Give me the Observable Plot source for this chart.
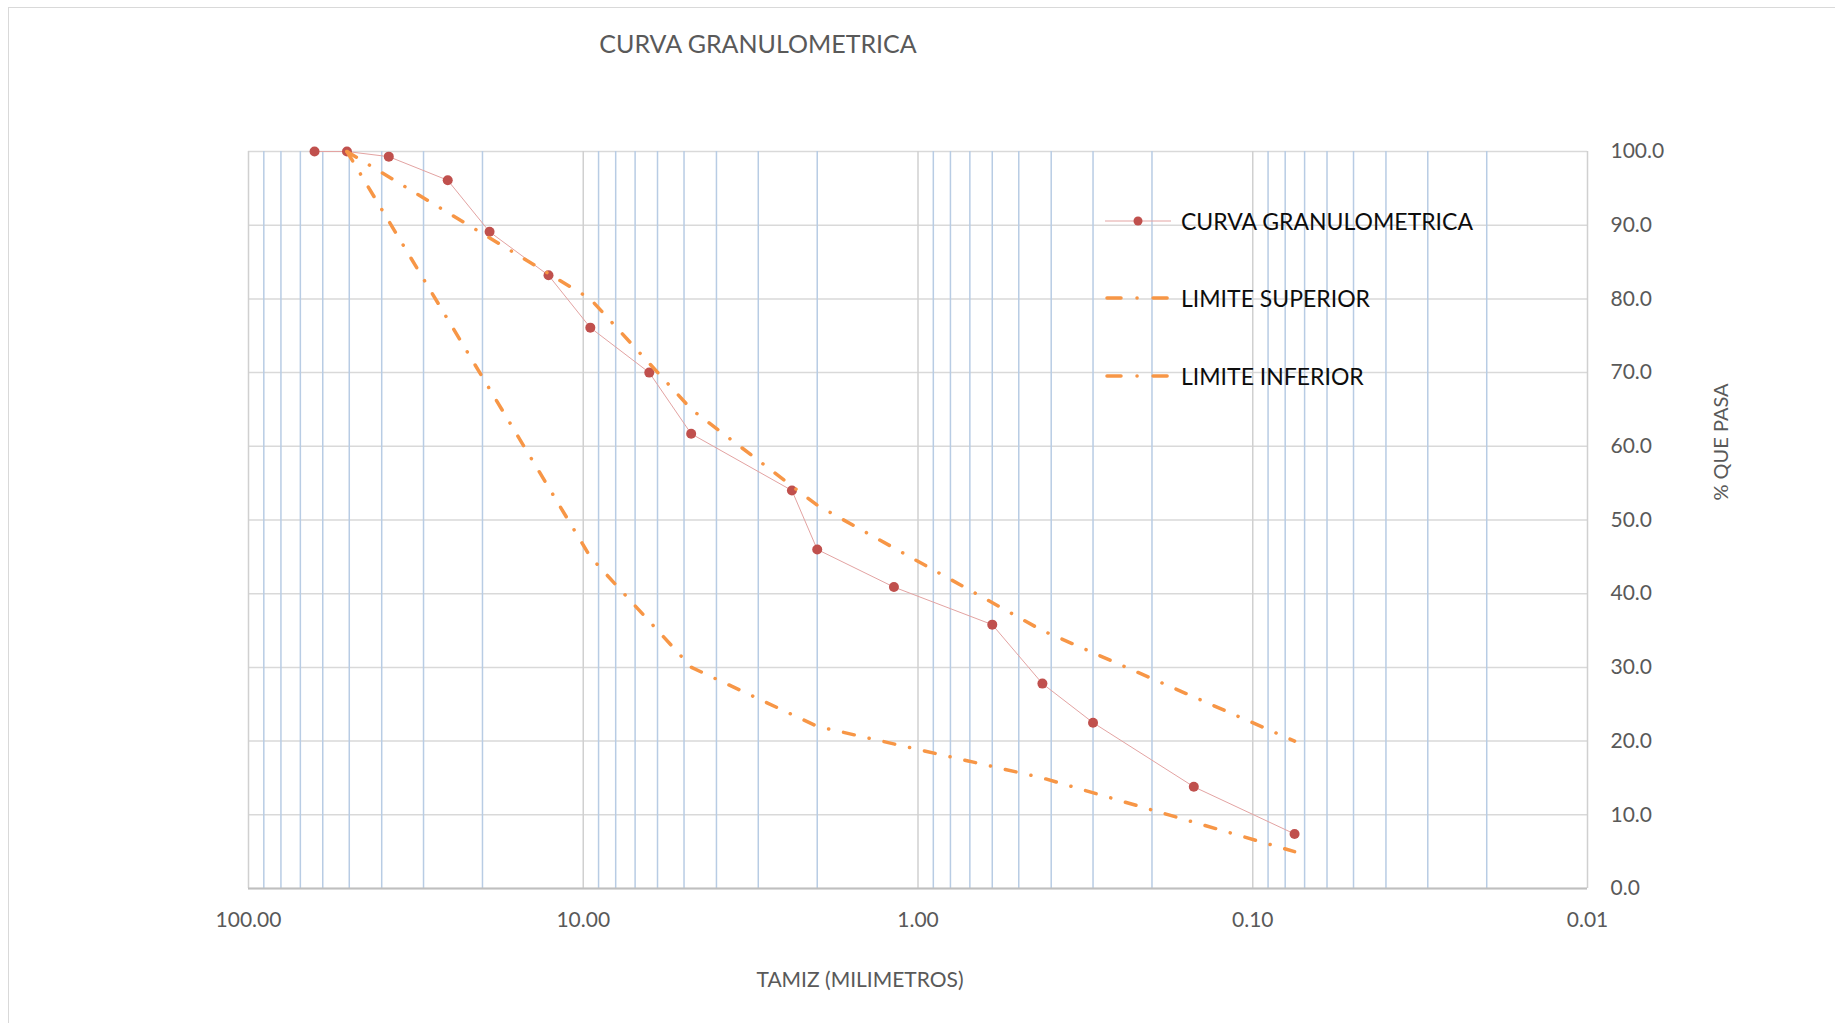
<!DOCTYPE html>
<html>
<head>
<meta charset="utf-8">
<script src="https://cdn.jsdelivr.net/npm/d3@7"></script>
<script src="https://cdn.jsdelivr.net/npm/@observablehq/plot@0.6"></script>
<style>
  html, body { margin: 0; padding: 0; background: #fff; overflow: hidden; }
  #chart { position: relative; width: 1835px; height: 1023px; overflow: hidden; font-family: Lato, "Open Sans", sans-serif; }
  #border { position: absolute; left: 8px; top: 7px; width: 1840px; height: 1040px; border: 1px solid #d9d9d9; box-sizing: border-box; pointer-events: none; }
  #title { position: relative; height: 100px; }
  #title span { position: absolute; left: 758px; top: 43px; transform: translate(-50%, -50%); font-size: 25px; color: #595959; white-space: nowrap; }
  #plot svg { display: block; }
  #xtitle { position: relative; height: 85px; }
  #xtitle span { position: absolute; left: 860px; top: 40px; transform: translate(-50%, -50%); font-size: 21px; color: #595959; white-space: nowrap; }
  #ytitle { position: absolute; left: 1720px; top: 442px; transform: translate(-50%, -50%) rotate(-90deg); font-size: 20px; color: #595959; white-space: nowrap; }
  .lg-row { position: absolute; left: 1104px; height: 30px; display: flex; align-items: center; }
  .lg-row svg { display: block; }
  .lg-row span { margin-left: 9px; font-size: 23px; color: #0d0d0d; white-space: nowrap; }
</style>
</head>
<body>
<div id="chart">
  <div id="border"></div>
  <div id="title"><span>CURVA GRANULOMETRICA</span></div>
  <div id="plot"></div>
  <div id="xtitle"><span>TAMIZ (MILIMETROS)</span></div>
  <div id="ytitle">% QUE PASA</div>
  <div id="legend"></div>
</div>
<script>
// ---- Data ----
const seriesNames = ["CURVA GRANULOMETRICA", "LIMITE SUPERIOR", "LIMITE INFERIOR"];

const curvaTamiz = [63.5, 50.8, 38.1, 25.4, 19.05, 12.7, 9.525, 6.35, 4.76, 2.38, 2.0, 1.18, 0.6, 0.425, 0.3, 0.15, 0.075];
const curvaPasa  = [100, 100, 99.3, 96.1, 89.1, 83.2, 76.1, 70.0, 61.7, 54.0, 46.0, 40.9, 35.8, 27.8, 22.5, 13.8, 7.4];

const supTamiz = [50.8, 9.525, 4.75, 2.0, 0.425, 0.075];
const supPasa  = [100, 80, 65, 52, 35, 20];

const infTamiz = [50.8, 9.525, 4.75, 2.0, 0.425, 0.075];
const infPasa  = [100, 45, 30, 22, 15, 5];

const xMajorTicks = [100, 10, 1, 0.1, 0.01];
const xMinorTicks = [90, 80, 70, 60, 50, 40, 30, 20,
                     9, 8, 7, 6, 5, 4, 3, 2,
                     0.9, 0.8, 0.7, 0.6, 0.5, 0.4, 0.3, 0.2,
                     0.09, 0.08, 0.07, 0.06, 0.05, 0.04, 0.03, 0.02];
const yTicks = [0, 10, 20, 30, 40, 50, 60, 70, 80, 90, 100];

// ---- Build tables ----
const curva = curvaTamiz.map((t, i) => ({tamiz: t, pasa: curvaPasa[i]}));
const sup = supTamiz.map((t, i) => ({tamiz: t, pasa: supPasa[i]}));
const inf = infTamiz.map((t, i) => ({tamiz: t, pasa: infPasa[i]}));

const curveLine = "#e3a3a2";
const curveDot = "#c0504d";
const limitColor = "#f79646";
const dashPattern = "11,15.2,0.1,15.2";

const chart = Plot.plot({
  width: 1835,
  height: 838,
  marginLeft: 248,
  marginRight: 248,
  marginTop: 51,
  marginBottom: 50,
  style: {fontFamily: "Lato, 'Open Sans', sans-serif", fontSize: "21px", color: "#595959", background: "transparent", overflow: "visible"},
  x: {type: "log", domain: [100, 0.01]},
  y: {domain: [0, 100]},
  marks: [
    Plot.gridY(yTicks, {stroke: "#d9d9d9", strokeOpacity: 1, strokeWidth: 1.5}),
    Plot.gridX(xMinorTicks, {stroke: "#b8cce4", strokeOpacity: 1, strokeWidth: 1.5}),
    Plot.gridX(xMajorTicks, {stroke: "#d0d0d0", strokeOpacity: 1, strokeWidth: 1.5}),
    Plot.ruleY([0], {stroke: "#bfbfbf", strokeWidth: 2}),
    Plot.axisX(xMajorTicks, {tickFormat: d => d.toFixed(2), tickSize: 0, tickPadding: 24, label: null}),
    Plot.axisY(yTicks, {anchor: "right", tickFormat: d => d.toFixed(1), tickSize: 0, tickPadding: 23, label: null}),
    Plot.line(curva, {x: "tamiz", y: "pasa", stroke: curveLine, strokeWidth: 1}),
    Plot.dot(curva, {x: "tamiz", y: "pasa", r: 5, fill: curveDot, stroke: "none"}),
    Plot.line(sup, {x: "tamiz", y: "pasa", stroke: limitColor, strokeWidth: 3.5, strokeDasharray: dashPattern, strokeLinecap: "round"}),
    Plot.line(inf, {x: "tamiz", y: "pasa", stroke: limitColor, strokeWidth: 3.5, strokeDasharray: dashPattern, strokeLinecap: "round"})
  ]
});
document.getElementById("plot").appendChild(chart);

// ---- Legend ----
const legend = document.getElementById("legend");
const rowTops = [221, 298, 376];
seriesNames.forEach((name, i) => {
  const row = document.createElement("div");
  row.className = "lg-row";
  row.style.top = (rowTops[i] - 15) + "px";
  let sw;
  if (i === 0) {
    sw = `<svg width="68" height="14"><line x1="1" y1="7" x2="67" y2="7" stroke="${curveLine}" stroke-width="1"/><circle cx="34" cy="7" r="4.5" fill="${curveDot}"/></svg>`;
  } else {
    sw = `<svg width="68" height="14"><line x1="3" y1="7" x2="66" y2="7" stroke="${limitColor}" stroke-width="3.5" stroke-linecap="round" stroke-dasharray="14,16,0.1,16"/></svg>`;
  }
  row.innerHTML = sw + `<span>${name}</span>`;
  legend.appendChild(row);
});
</script>
</body>
</html>
